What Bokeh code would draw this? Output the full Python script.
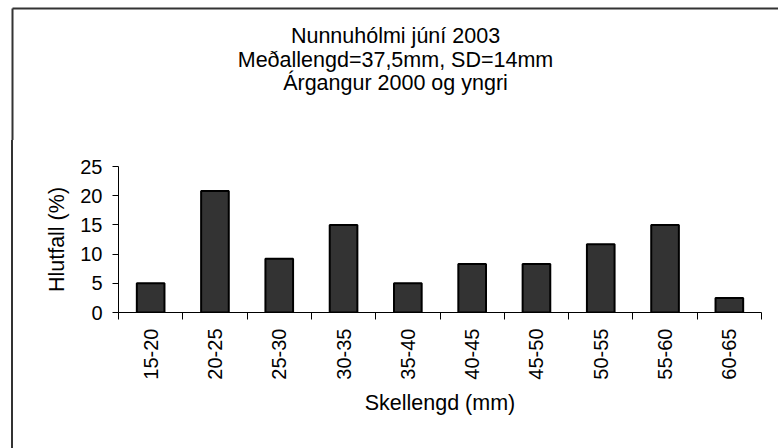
import math
from bokeh.plotting import figure
from bokeh.layouts import column, row
from bokeh.models import ColumnDataSource, FixedTicker, Range1d, Div, Spacer
from bokeh.core.properties import value
from bokeh.embed import file_html
from bokeh.resources import INLINE

# ---- data ----
categories = ["15-20", "20-25", "25-30", "30-35", "35-40",
              "40-45", "45-50", "50-55", "55-60", "60-65"]
values = [5.0, 20.8, 9.2, 15.0, 5.0, 8.3, 8.3, 11.7, 15.0, 2.5]
y_ticks = [0, 5, 10, 15, 20, 25]
title_lines = ["Nunnuhólmi júní 2003",
               "Meðallengd=37,5mm, SD=14mm",
               "Árgangur 2000 og yngri"]
x_label = "Skellengd (mm)"
y_label = "Hlutfall (%)"

FONT = "Liberation Sans"
BORDER = "#333333"

W, H = 778, 448
TOP_H = 140          # height of the title strip
GAP_W = 11           # space left of the border line
LINE_W = 2           # border line width
FL, FR, FT, FB = 118, 761, 166, 312   # plot frame edges on the page


def bare(fig):
    fig.xgrid.visible = False
    fig.ygrid.visible = False
    return fig


# ---- title strip (page pixel coordinates) ----
top = bare(figure(width=W, height=TOP_H, x_range=Range1d(0, W), y_range=Range1d(TOP_H, 0),
                  x_axis_location=None, y_axis_location=None,
                  output_backend="svg", toolbar_location=None,
                  min_border=0, outline_line_color=None, margin=0,
                  background_fill_color="white", border_fill_color="white"))
title_src = ColumnDataSource(dict(x=[395] * len(title_lines),
                                  y=[35.5 + 23.5 * i for i in range(len(title_lines))],
                                  text=title_lines))
top.text(x="x", y="y", text="text", source=title_src, text_align="center",
         text_baseline="middle", text_font=value(FONT), text_font_size="21.5px",
         text_color="black")
top.segment(x0=[12, 12], y0=[8, 8], x1=[W + 5, 12], y1=[8, TOP_H + 5],
            line_color=BORDER, line_width=LINE_W)

# ---- left border continuation ----
BH = H - TOP_H
gap = Spacer(width=GAP_W, height=BH, margin=0)
border_line = Div(text="", width=LINE_W, height=BH, margin=0,
                  styles={"background-color": BORDER})

# ---- main chart ----
n = len(categories)
centers = [i + 0.5 for i in range(n)]
source = ColumnDataSource(dict(x=centers, top=values, cat=categories))

OFF = GAP_W + LINE_W
MW = W - OFF
p = bare(figure(width=MW, height=BH,
                x_range=Range1d(0, n), y_range=Range1d(0, y_ticks[-1]),
                output_backend="svg", toolbar_location=None, margin=0,
                min_border_left=FL - OFF, min_border_right=W - FR,
                min_border_top=FT - TOP_H, min_border_bottom=H - FB,
                outline_line_color=None, background_fill_color="white",
                border_fill_color="white"))

p.vbar(x="x", top="top", bottom=0, width=0.43, source=source,
       fill_color="#333333", line_color="#000000", line_width=2)

# x axis: labels at category centres, ticks at category boundaries
xa = p.xaxis[0]
xa.ticker = FixedTicker(ticks=centers, minor_ticks=list(range(n + 1)))
xa.major_label_overrides = {c: cat for c, cat in zip(centers, categories)}
xa.major_tick_out = 0
xa.major_tick_in = 0
xa.major_tick_line_color = None
xa.minor_tick_out = 7
xa.minor_tick_in = 0
xa.minor_tick_line_color = "black"
xa.major_label_orientation = math.pi / 2
xa.major_label_standoff = 9
xa.axis_label = x_label
xa.axis_label_standoff = 8

ya = p.yaxis[0]
ya.ticker = FixedTicker(ticks=y_ticks)
ya.minor_tick_line_color = None
ya.major_tick_out = 6
ya.major_tick_in = 0
ya.major_tick_line_color = "black"
ya.major_label_standoff = 10
ya.axis_label = y_label
ya.axis_label_standoff = 8

for ax in (xa, ya):
    ax.axis_line_color = "black"
    ax.major_label_text_font = FONT
    ax.major_label_text_font_size = "20px"
    ax.major_label_text_color = "black"
    ax.axis_label_text_font = FONT
    ax.axis_label_text_font_size = "21.5px"
    ax.axis_label_text_font_style = "normal"
    ax.axis_label_text_color = "black"

layout = column(top, row(gap, border_line, p, spacing=0, margin=0), spacing=0, margin=0)

open("out.html", "w").write(file_html(layout, INLINE))
